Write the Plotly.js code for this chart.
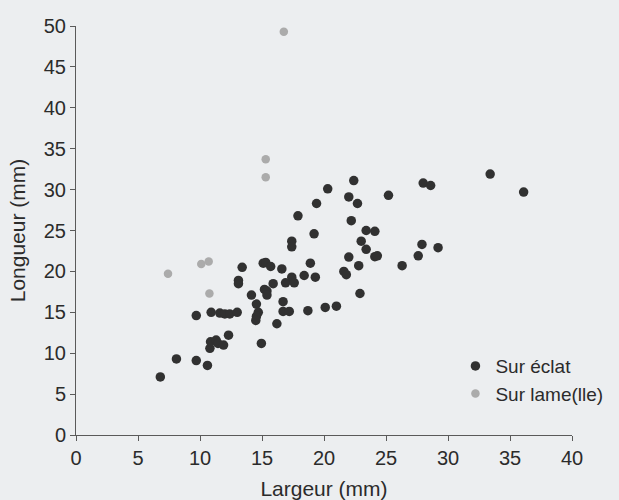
<!DOCTYPE html>
<html>
<head>
<meta charset="utf-8">
<script src="https://cdn.plot.ly/plotly-3.0.1.min.js"></script>
<style>
  html, body { margin: 0; padding: 0; background: #eceef0; }
  #chart { width: 619px; height: 500px; }
</style>
</head>
<body>
<div id="chart"></div>
<script>
// Flakes made on a flake ("Sur éclat"): width and length in mm
var eclatLargeur = [
  6.8, 8.1, 9.7, 10.6, 10.8, 10.85, 11.3, 11.45, 11.9, 12.3,
  9.7, 10.9, 11.6, 12.0, 12.4, 13.0, 13.1, 13.1, 13.4, 14.15,
  14.55, 14.7, 14.55, 14.5, 14.95, 15.1, 15.3, 15.7, 15.2, 15.4,
  15.4, 15.9, 16.2, 16.6, 16.7, 16.7, 17.2, 16.9, 17.4, 17.6,
  17.4, 17.4, 17.9, 18.4, 18.7, 18.9, 19.2, 19.3, 19.4, 20.1,
  20.3, 21.0, 21.6, 21.8, 22.0, 22.0, 22.2, 22.4, 22.7, 22.8,
  22.9, 23.0, 23.4, 23.4, 24.1, 24.3, 24.1, 25.2, 26.3, 27.6,
  27.9, 28.0, 28.6, 29.2, 33.4, 36.1
];
var eclatLongueur = [
  7.1, 9.3, 9.1, 8.5, 10.6, 11.4, 11.6, 11.2, 11.0, 12.2,
  14.6, 15.0, 14.9, 14.8, 14.8, 15.0, 18.9, 18.5, 20.5, 17.1,
  16.0, 15.0, 14.5, 14.0, 11.2, 21.0, 21.1, 20.6, 17.8, 17.6,
  17.1, 18.5, 13.6, 20.3, 16.3, 15.1, 15.1, 18.6, 19.3, 18.6,
  23.7, 23.0, 26.8, 19.5, 15.2, 21.0, 24.6, 19.3, 28.3, 15.6,
  30.1, 15.75, 20.0, 19.6, 21.75, 29.1, 26.2, 31.1, 28.3, 20.7,
  17.3, 23.7, 22.7, 25.0, 21.8, 21.9, 24.9, 29.3, 20.7, 21.9,
  23.3, 30.8, 30.5, 22.9, 31.9, 29.7
];

// Flakes made on a blade or bladelet ("Sur lame(lle)")
var lameLargeur  = [7.42, 10.1, 10.7, 10.76, 15.3, 15.3, 16.76];
var lameLongueur = [19.7, 20.9, 21.2, 17.3, 33.7, 31.5, 49.3];

var xTicks = [0, 5, 10, 15, 20, 25, 30, 35, 40];
var yTicks = [0, 5, 10, 15, 20, 25, 30, 35, 40, 45, 50];

var FONT = 'Liberation Sans, Arial, Helvetica, sans-serif';
var INK = '#2b2b2b';

var traces = [
  {
    type: 'scatter', mode: 'markers', name: 'Sur éclat',
    x: eclatLargeur, y: eclatLongueur,
    marker: { color: '#313131', size: 9.5, line: { width: 0 } },
    cliponaxis: false
  },
  {
    type: 'scatter', mode: 'markers', name: 'Sur lame(lle)',
    x: lameLargeur, y: lameLongueur,
    marker: { color: '#ababab', size: 8.5, line: { width: 0 } },
    cliponaxis: false
  }
];

var axisCommon = {
  showgrid: false, zeroline: false,
  showline: true, linecolor: '#5a5a5a', linewidth: 1,
  ticks: 'outside', ticklen: 5, tickwidth: 1, tickcolor: '#5a5a5a',
  tickfont: { family: FONT, size: 20, color: INK },
  automargin: false, fixedrange: true
};

var layout = {
  width: 619, height: 500,
  margin: { l: 76, r: 47, t: 26, b: 65, autoexpand: false },
  paper_bgcolor: '#eceef0', plot_bgcolor: '#eceef0',
  font: { family: FONT, color: INK },
  showlegend: true,
  legend: {
    x: 0.765, y: 0.215, xanchor: 'left', yanchor: 'top',
    bgcolor: 'rgba(0,0,0,0)', borderwidth: 0,
    font: { family: FONT, size: 19, color: INK },
    tracegroupgap: 0
  },
  xaxis: Object.assign({}, axisCommon, {
    range: [0, 40], tickvals: xTicks, ticktext: xTicks.map(String),
    title: { text: 'Largeur (mm)', font: { family: FONT, size: 21, color: INK }, standoff: 19 }
  }),
  yaxis: Object.assign({}, axisCommon, {
    range: [0, 50], tickvals: yTicks, ticktext: yTicks.map(String),
    title: { text: 'Longueur (mm)', font: { family: FONT, size: 21, color: INK }, standoff: 12 }
  })
};

Plotly.newPlot('chart', traces, layout, { displayModeBar: false, staticPlot: true });
</script>
</body>
</html>
